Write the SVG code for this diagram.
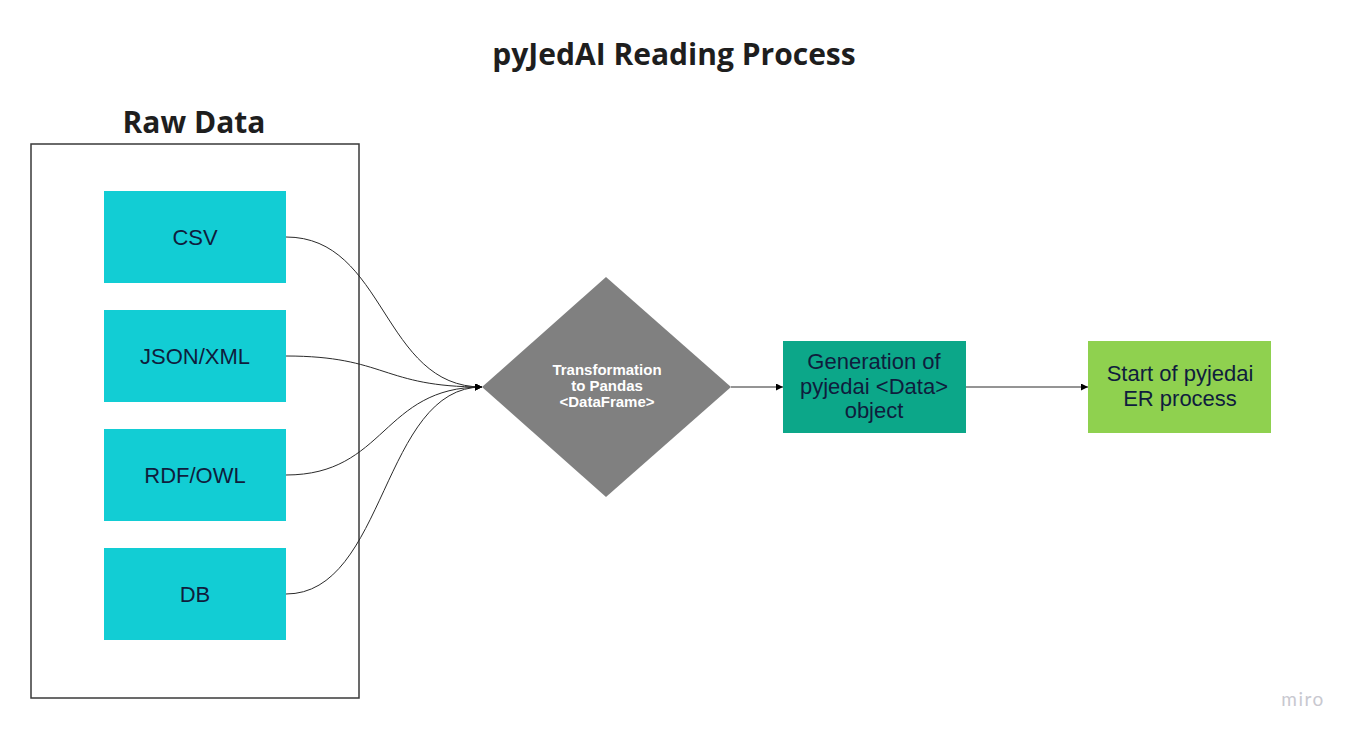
<svg xmlns="http://www.w3.org/2000/svg" width="1356" height="737" viewBox="0 0 1356 737">
<defs>
<marker id="arr" viewBox="0 0 10 10" refX="10" refY="5" markerWidth="10" markerHeight="7" markerUnits="userSpaceOnUse" orient="auto"><path d="M0,0 L10,5 L0,10 z" fill="#000"/></marker>
<style>
.title{font-family:"Open Sans","Noto Sans",sans-serif;font-weight:700;font-size:30px;fill:#1e1e1e;text-anchor:middle}
.src rect{fill:#12CDD4}
.lbl{font-family:"Liberation Sans",Arial,sans-serif;font-size:22px;fill:#0f1d3d;text-anchor:middle}
.dlbl{font-family:"Liberation Sans",Arial,sans-serif;font-weight:700;font-size:15px;fill:#fff;text-anchor:middle}
.con path{fill:none;stroke:#2a2a2a;stroke-width:1}
</style>
</defs>
<rect width="1356" height="737" fill="#fff"/>
<text class="title" x="674" y="65">pyJedAI Reading Process</text>
<g id="rawdata">
<text class="title" x="194" y="133">Raw Data</text>
<rect x="31" y="144" width="328" height="554" fill="none" stroke="#3a3a3a" stroke-width="1.5"/>
</g>
<g id="csv" class="src"><rect x="104" y="191" width="182" height="92"/><text class="lbl" x="195" y="245">CSV</text></g>
<g id="json" class="src"><rect x="104" y="310" width="182" height="92"/><text class="lbl" x="195" y="364">JSON/XML</text></g>
<g id="rdf" class="src"><rect x="104" y="429" width="182" height="92"/><text class="lbl" x="195" y="483">RDF/OWL</text></g>
<g id="db" class="src"><rect x="104" y="548" width="182" height="92"/><text class="lbl" x="195" y="602">DB</text></g>
<g id="transform">
<polygon points="606,277 731,387 606,497 482,387" fill="#808080"/>
<text class="dlbl" x="607" y="375">Transformation</text>
<text class="dlbl" x="607" y="391">to Pandas</text>
<text class="dlbl" x="607" y="407">&lt;DataFrame&gt;</text>
</g>
<g id="generation">
<rect x="783" y="341" width="183" height="92" fill="#0CA789"/>
<text class="lbl" x="874" y="369">Generation of</text>
<text class="lbl" x="874" y="394">pyjedai &lt;Data&gt;</text>
<text class="lbl" x="874" y="418">object</text>
</g>
<g id="start">
<rect x="1088" y="341" width="183" height="92" fill="#8FD14F"/>
<text class="lbl" x="1180" y="381">Start of pyjedai</text>
<text class="lbl" x="1180" y="406">ER process</text>
</g>
<g id="connectors" class="con">
<path d="M286,237 C386,237 382,387 482,387" marker-end="url(#arr)"/>
<path d="M286,356 C386,356 382,387 482,387" marker-end="url(#arr)"/>
<path d="M286,475 C386,475 382,387 482,387" marker-end="url(#arr)"/>
<path d="M286,594 C386,594 382,387 482,387" marker-end="url(#arr)"/>
<path d="M731,387 L783,387" marker-end="url(#arr)"/>
<path d="M966,387 L1088,387" marker-end="url(#arr)"/>
</g>
<text x="1303" y="706" font-family="Lato,'Open Sans',sans-serif" font-size="19" fill="#c8c8d0" text-anchor="middle" letter-spacing="1.5">miro</text>
</svg>
